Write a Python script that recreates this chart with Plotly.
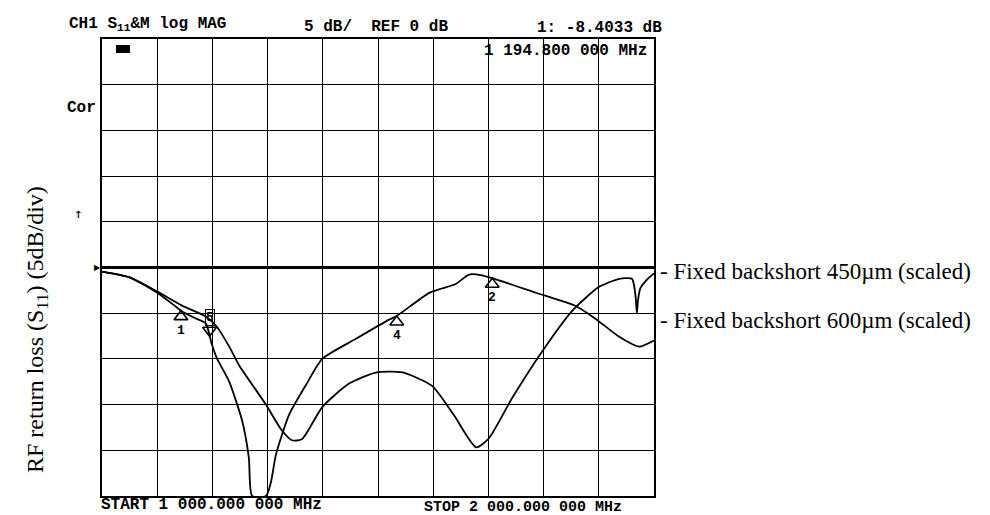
import numpy as np
import plotly.graph_objects as go

# ---------------- data ----------------
freq_450 = [1000, 1049, 1098, 1145, 1188, 1207, 1230, 1248, 1297, 1326, 1344, 1362, 1399, 1447,
            1496, 1543, 1598, 1638, 1678, 1701, 1743, 1797, 1851, 1900, 1937, 1960, 1964,
            1967, 1969, 1971, 1975, 1986, 2000]
s11_450 = [-0.44, -1.06, -2.56, -4.17, -5.35, -6.4, -8.6, -10.66, -15.0, -17.84, -18.9, -18.8,
           -15.27, -12.73, -11.49, -11.46, -12.95, -16.2, -19.68, -18.68, -14.28, -9.21, -4.79,
           -2.14, -1.24, -1.22, -2.0, -3.4, -5.0, -3.6, -2.3, -1.4, -0.64]

freq_600 = [1000, 1049, 1098, 1134, 1145, 1170, 1188, 1199, 1208, 1230, 1254, 1266, 1272, 1297,
            1306, 1315, 1339, 1370, 1399, 1460, 1520, 1534, 1592, 1616, 1641, 1665, 1688, 1707,
            1786, 1859, 1895, 1937, 1973, 2000]
s11_600 = [-0.44, -1.06, -2.67, -4.29, -4.82, -5.58, -6.12, -8.40, -9.92, -12.43, -16.79, -20.8,
           -25.0, -25.0, -23.5, -20.5, -16.1, -12.8, -10.0, -7.8, -5.7, -5.3, -2.8, -2.3, -1.8,
           -0.77, -0.85, -1.17, -2.76, -4.24, -5.65, -7.58, -8.65, -7.98]

marker_up_freqs = [1143, 1534, 1707]
marker_up_labels = ["1", "4", "2"]
marker_active_freq = 1194.8
marker_active_label = "5"

header_left = "CH1 S<sub>11</sub>&M log MAG"
header_scale = "5 dB/  REF 0 dB"
header_readout = "1: -8.4033 dB"
marker_readout = "1 194.800 000 MHz"
start_label = "START 1 000.000 000 MHz"
stop_label = "STOP 2 000.000 000 MHz"
ylabel = "RF return loss (S<sub>11</sub>) (5dB/div)"
label_450 = "- Fixed backshort 450µm (scaled)"
label_600 = "- Fixed backshort 600µm (scaled)"

# ---------------- layout geometry ----------------
W, H = 990, 515
L, R, T, B = 94, 646, 31, 488
PW, PH = R - L, B - T
DB_PER_PX = 50.0 / PH


def px(x):
    return (x - L) / PW


def py(y):
    return (B - y) / PH


fig = go.Figure()
line_style = dict(color="black", width=1.8, shape="spline", smoothing=0.6)
fig.add_trace(go.Scatter(x=freq_450, y=s11_450, mode="lines", line=line_style, hoverinfo="skip"))
fig.add_trace(go.Scatter(x=freq_600, y=s11_600, mode="lines", line=line_style, hoverinfo="skip"))

# markers on the 600um trace
up_vals = np.interp(marker_up_freqs, freq_600, s11_600)
tri_size = 12
off = (tri_size / 2) * DB_PER_PX
fig.add_trace(go.Scatter(x=marker_up_freqs, y=up_vals - off, mode="markers",
                         marker=dict(symbol="triangle-up-open", size=tri_size,
                                     line=dict(color="black", width=1.6), color="black"),
                         hoverinfo="skip"))
act_val = float(np.interp(marker_active_freq, freq_600, s11_600))
fig.add_trace(go.Scatter(x=[marker_active_freq], y=[act_val + off], mode="markers",
                         marker=dict(symbol="triangle-down-open", size=tri_size,
                                     line=dict(color="black", width=1.6), color="black"),
                         hoverinfo="skip"))

mono = dict(family="Liberation Mono", size=16, color="black")
ann = []
for f, v, lab in zip(marker_up_freqs, up_vals, marker_up_labels):
    ann.append(dict(x=f, y=v, xref="x", yref="y", text="<b>%s</b>" % lab, showarrow=False,
                    yanchor="top", xanchor="center", yshift=-10,
                    font=dict(family="Liberation Mono", size=13, color="black")))
ann.append(dict(x=marker_active_freq, y=act_val, xref="x", yref="y",
                text="<b>%s</b>" % marker_active_label, showarrow=False,
                yanchor="bottom", xanchor="center", yshift=10,
                font=dict(family="Liberation Mono", size=13, color="black"),
                bordercolor="black", borderwidth=1, borderpad=0))
# reference position indicator
ann.append(dict(x=1000, y=0, xref="x", yref="y", text="▶", showarrow=False,
                xanchor="right", yanchor="middle", xshift=1,
                font=dict(family="DejaVu Sans", size=8, color="black")))


def text_at(x, y, s, font, xanchor="left", yanchor="middle", angle=0):
    ann.append(dict(x=px(x), y=py(y), xref="paper", yref="paper", text=s, showarrow=False,
                    xanchor=xanchor, yanchor=yanchor, textangle=angle, font=font))


text_at(59, 16, "<b>%s</b>" % header_left, mono)
text_at(294, 19, "<b>%s</b>" % header_scale, mono)
text_at(527, 20, "<b>%s</b>" % header_readout, mono)
text_at(474, 43, "<b>%s</b>" % marker_readout, mono)
text_at(57, 100, "<b>Cor</b>", mono)
text_at(70, 206, "<b>↑</b>", dict(family="DejaVu Sans", size=10, color="black"), xanchor="center")
text_at(91, 497, "<b>%s</b>" % start_label, mono)
text_at(414, 499, "<b>%s</b>" % stop_label, dict(family="Liberation Mono", size=15, color="black"))

serif = dict(family="Liberation Serif", size=23, color="black")
text_at(650, 263, label_450, serif)
text_at(650, 312, label_600, serif)
text_at(29, 322, ylabel, dict(family="Liberation Serif", size=24, color="black"),
        xanchor="center", angle=-90)

shapes = [dict(type="rect", xref="paper", yref="paper", x0=px(108), x1=px(122), y0=py(45), y1=py(37),
               fillcolor="black", line=dict(width=0))]

axis_common = dict(showgrid=True, gridcolor="black", gridwidth=1.2, showline=True,
                   linecolor="black", linewidth=1.8, mirror=True, showticklabels=False,
                   ticks="")
fig.update_layout(
    width=W, height=H, margin=dict(l=L, r=W - R, t=T, b=H - B, pad=0),
    paper_bgcolor="white", plot_bgcolor="white", showlegend=False,
    xaxis=dict(range=[1000, 2000], dtick=100, tick0=1000, zeroline=False, **axis_common),
    yaxis=dict(range=[-25, 25], dtick=5, tick0=0, zeroline=True, zerolinecolor="black",
               zerolinewidth=2.6, **axis_common),
    annotations=ann, shapes=shapes,
)

fig.write_html("out.html")
